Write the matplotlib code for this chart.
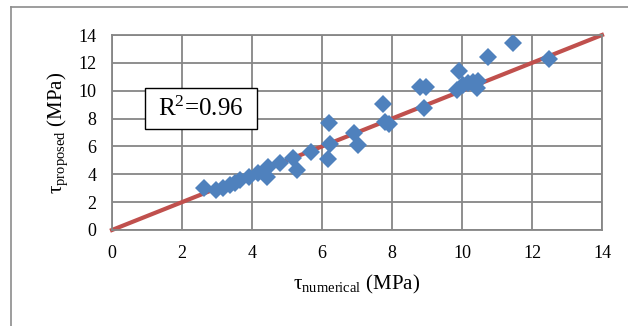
import matplotlib.pyplot as plt
from matplotlib.lines import Line2D
from matplotlib.patches import Rectangle

plt.rcParams['font.family'] = ['Liberation Serif', 'DejaVu Serif']
plt.rcParams['mathtext.fontset'] = 'custom'
plt.rcParams['mathtext.rm'] = 'Liberation Serif'
plt.rcParams['mathtext.it'] = 'Liberation Serif:italic'

# data
tau_numerical = [2.64, 2.97, 3.18, 3.37, 3.51, 3.66, 3.90, 4.18, 4.42, 4.47,
                 4.80, 5.16, 5.28, 5.68, 6.19, 6.23, 6.16, 6.90, 7.04, 7.75,
                 7.80, 7.92, 8.80, 8.97, 8.91, 9.92, 9.85, 10.04, 10.18, 10.32,
                 10.47, 10.42, 10.75, 11.47, 12.49]
tau_proposed = [3.04, 2.85, 2.99, 3.23, 3.40, 3.59, 3.83, 4.07, 3.83, 4.55,
                4.79, 5.19, 4.31, 5.58, 7.66, 6.17, 5.07, 6.94, 6.10, 9.02,
                7.73, 7.61, 10.24, 10.24, 8.73, 11.41, 10.05, 10.41, 10.53, 10.65,
                10.72, 10.17, 12.40, 13.40, 12.27]
line_x = [0, 14]
line_y = [0, 14]
ticks = [0, 2, 4, 6, 8, 10, 12, 14]
r2_text = r'R$^{\mathrm{2}}$=0.96'

fig = plt.figure(figsize=(6.28, 3.26), dpi=100)
ax = fig.add_axes([112 / 628, 1 - 230 / 326, 490 / 628, 195 / 326])

grid_col = '#868686'
ax.set_xlim(0, 14)
ax.set_ylim(0, 14)
ax.set_xticks(ticks)
ax.set_yticks(ticks)
ax.grid(True, color=grid_col, linewidth=1.3)
ax.set_axisbelow(True)
for s in ax.spines.values():
    s.set_color(grid_col)
    s.set_linewidth(1.3)
ax.tick_params(length=0, labelsize=13, pad=11)

ax.plot(line_x, line_y, color='#C0504D', linewidth=3, zorder=2, clip_on=False)
ax.plot(tau_numerical, tau_proposed, 'D', color='#4F81BD', markersize=9.5,
        markeredgewidth=0, zorder=3)

ax.set_xlabel(r'τ$_{\mathrm{numerical}}$ (MPa)', fontsize=15, labelpad=8)
ax.set_ylabel(r'τ$_{\mathrm{proposed}}$ (MPa)', fontsize=15, labelpad=6)

# R^2 box
ax.add_patch(Rectangle((33 / 490, (230 - 129) / 195), 112 / 490, 41 / 195,
                       transform=ax.transAxes, fill=True, facecolor='white',
                       edgecolor='black', linewidth=1.0, zorder=4))
ax.text((33 + 56) / 490, (230 - 108.5) / 195, r2_text, transform=ax.transAxes,
        ha='center', va='center', fontsize=18, zorder=5)

# outer chart frame
fig.add_artist(Line2D([11 / 628, 11 / 628], [0, 1 - 7 / 326], color='#8c8c8c', linewidth=1.2))
fig.add_artist(Line2D([11 / 628, 1], [1 - 7 / 326, 1 - 7 / 326], color='#8c8c8c', linewidth=1.2))

fig.savefig('out.png', dpi=100)
